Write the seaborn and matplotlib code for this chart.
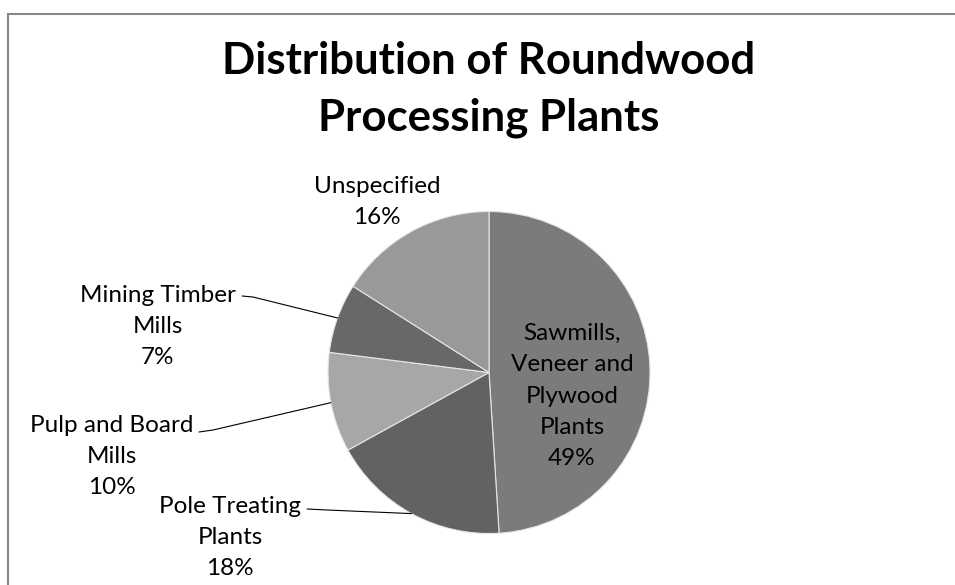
import matplotlib
matplotlib.use("Agg")
import matplotlib.pyplot as plt
import seaborn as sns
import numpy as np
from matplotlib.patches import Rectangle

# ---- data ----
categories = ["Sawmills,\nVeneer and\nPlywood\nPlants", "Pole Treating\nPlants",
              "Pulp and Board\nMills", "Mining Timber\nMills", "Unspecified"]
shares = [49, 18, 10, 7, 16]
colors = ["#7b7b7b", "#626262", "#a7a7a7", "#686868", "#999999"]
title = "Distribution of Roundwood\nProcessing Plants"

sns.set_theme(style="white")
plt.rcParams['font.family'] = ['Lato', 'DejaVu Sans']

W, H = 955, 585
fig = plt.figure(figsize=(W / 100, H / 100), dpi=100)
fig.patch.set_facecolor("white")

cx, cy, r = 489, 372.5, 161
ax = fig.add_axes([(cx - r) / W, (H - cy - r) / H, 2 * r / W, 2 * r / H])
wedges, _ = ax.pie(shares, colors=colors, startangle=90, counterclock=False, radius=1,
                   wedgeprops=dict(edgecolor="#e6e6e6", linewidth=0.8))
ax.set_xlim(-1, 1)
ax.set_ylim(-1, 1)
ax.set_aspect("equal")
ax.axis("off")


def P(px, py):
    return (px - cx) / r, (cy - py) / r


# label last-line baseline anchors (pixels)
label_pos = [(572, 465), (230, 575), (112, 494), (158, 364), (377, 224)]
for cat, s, (px, py) in zip(categories, shares, label_pos):
    x, y = P(px, py)
    ax.text(x, y, f"{cat}\n{s}%", ha="center", va="baseline", fontsize=17.5,
            linespacing=1.6, color="#000000", clip_on=False)

# leader lines (start, elbow in pixels) for outside labels
leaders = {3: [(242, 296), (253, 297)], 2: [(199, 432), (213, 430)], 1: [(307, 509), (327, 510)]}
for i, pts in leaders.items():
    w = wedges[i]
    th = np.deg2rad((w.theta1 + w.theta2) / 2)
    xs = [P(*p)[0] for p in pts] + [np.cos(th)]
    ys = [P(*p)[1] for p in pts] + [np.sin(th)]
    ax.plot(xs, ys, color="#000000", lw=0.8, clip_on=False)

fig.text(489 / W, 1 - 130 / H, title, ha="center", va="baseline", fontsize=31.5,
         fontweight="bold", linespacing=1.5, color="#000000")

fig.add_artist(Rectangle((8 / W, -0.05), 1.2, (H - 14) / H + 0.05, transform=fig.transFigure,
                         fill=False, edgecolor="#878787", lw=1.5))

fig.savefig("out.png", dpi=100)
